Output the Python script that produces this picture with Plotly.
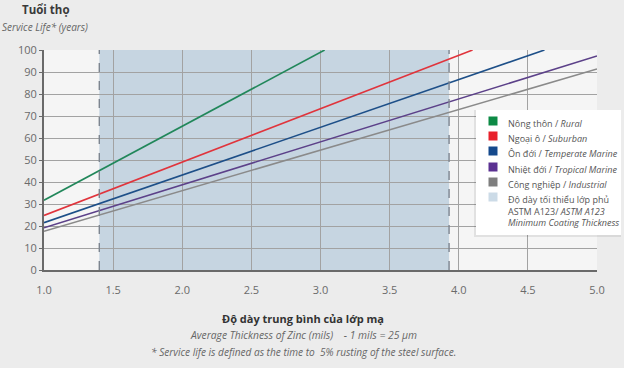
import plotly.graph_objects as go

# ---- data ----
series_names = ["Nông thôn / <i>Rural</i>", "Ngoại ô / <i>Suburban</i>",
                "Ôn đới / <i>Temperate Marine</i>", "Nhiệt đới / <i>Tropical Marine</i>",
                "Công nghiệp / <i>Industrial</i>"]
band_name = "Độ dày tối thiểu lớp phủ<br>ASTM A123/ <i>ASTM A123</i><br><i>Minimum Coating Thickness</i>"
rural_x = [1.0, 3.03]
rural_y = [31.7, 100]
suburban_x = [1.0, 4.10]
suburban_y = [24.8, 100]
temperate_x = [1.0, 4.62]
temperate_y = [21.5, 100]
tropical_x = [1.0, 5.0]
tropical_y = [19.2, 97.3]
industrial_x = [1.0, 5.0]
industrial_y = [17.6, 91.4]
astm_min_range = [1.40, 3.93]   # ASTM A123 minimum coating thickness band (mils)

x_ticks = [1.0, 1.5, 2.0, 2.5, 3.0, 3.5, 4.0, 4.5, 5.0]
x_ticktext = ["1.0", "1.5", "2.0", "2.5", "3.0", "3.5", "4.0", "4.5", "5.0"]
y_ticks = [0, 10, 20, 30, 40, 50, 60, 70, 80, 90, 100]

line_colors = ["#21875a", "#e0343c", "#1d4f88", "#5c4189", "#8a8a8a"]
legend_colors = ["#0d8a45", "#e8212b", "#15498c", "#5b3192", "#7e7e7e"]
band_color = "#c6d5e1"
band_legend_color = "#ccdbe7"

FONT = "Open Sans"
# plot-area pixel geometry (for placing paper-referenced decorations)
L, R, T, B = 44, 597, 50, 270


def px_x(p):
    return (p - L) / (R - L)


def px_y(p):
    return (B - p) / (B - T)


fig = go.Figure()

xs = [rural_x, suburban_x, temperate_x, tropical_x, industrial_x]
ys = [rural_y, suburban_y, temperate_y, tropical_y, industrial_y]
for name, x, y, c in zip(series_names, xs, ys, line_colors):
    fig.add_trace(go.Scatter(x=x, y=y, mode="lines", name=name.replace("<i>", "").replace("</i>", ""),
                             line=dict(color=c, width=1.6), showlegend=False))

# shaded band + dashed bounds
fig.add_shape(type="rect", xref="x", yref="paper", x0=astm_min_range[0], x1=astm_min_range[1],
              y0=0, y1=1, fillcolor=band_color, line=dict(width=0), layer="below")
for xv in astm_min_range:
    fig.add_shape(type="line", xref="x", yref="paper", x0=xv, x1=xv, y0=0, y1=1,
                  line=dict(color="#7d8590", width=1.4, dash="dash"), layer="above")

# ---- legend box (drawn manually to match the reference spacing) ----
bx0, bx1, by0, by1 = 476, 621, 110, 235
fig.add_shape(type="rect", xref="paper", yref="paper",
              x0=px_x(bx0 - 2), x1=px_x(bx1), y0=px_y(by1 + 2), y1=px_y(by0),
              fillcolor="rgba(0,0,0,0.08)", line=dict(width=0), layer="above")
fig.add_shape(type="rect", xref="paper", yref="paper",
              x0=px_x(bx0), x1=px_x(bx1), y0=px_y(by1), y1=px_y(by0),
              fillcolor="#ffffff", line=dict(width=0), layer="above")
row_y = [121, 136, 151, 167, 182, 197]
sw = 4.5
for lab, c, yy in zip(series_names + [band_name], legend_colors + [band_legend_color], row_y):
    fig.add_shape(type="rect", xref="paper", yref="paper",
                  x0=px_x(493 - sw), x1=px_x(493 + sw), y0=px_y(yy + sw), y1=px_y(yy - sw),
                  fillcolor=c, line=dict(width=0), layer="above")
    fig.add_annotation(text=lab, xref="paper", yref="paper", x=px_x(506), y=px_y(yy - 6.5),
                       xanchor="left", yanchor="top", align="left", showarrow=False,
                       font=dict(family=FONT, size=9, color="#555555"))

fig.update_layout(
    width=624, height=368,
    margin=dict(l=L, r=624 - R, t=T, b=368 - B, autoexpand=False),
    paper_bgcolor="#ececec",
    plot_bgcolor="#f5f5f5",
    font=dict(family=FONT, color="#6a6a6a", size=11),
    showlegend=False,
    xaxis=dict(range=[1.0, 5.0], tickvals=x_ticks, ticktext=x_ticktext,
               showgrid=True, gridcolor="#a2a2a2", gridwidth=1,
               showline=True, linecolor="#6a6a6a", linewidth=2,
               ticks="", ticklabelstandoff=9, zeroline=False,
               tickfont=dict(size=11, color="#6a6a6a")),
    yaxis=dict(range=[0, 100], tickvals=y_ticks,
               showgrid=True, gridcolor="#a2a2a2", gridwidth=1,
               showline=True, linecolor="#6a6a6a", linewidth=2,
               ticks="outside", ticklen=3, tickcolor="#6a6a6a", zeroline=False,
               tickfont=dict(size=11, color="#6a6a6a")),
)

ann = [
    dict(text="<b>Tuổi thọ</b>", x=px_x(46), y=px_y(10), size=11.5, color="#3a3a3a"),
    dict(text="<i>Service Life* (years)</i>", x=px_x(45), y=px_y(27), size=10, color="#666666"),
    dict(text="<b>Độ dày trung bình của lớp mạ</b>", x=px_x(303), y=px_y(318), size=11, color="#333333"),
    dict(text="<i>Average Thickness of Zinc (mils)    - 1 mils = 25 µm</i>", x=px_x(303), y=px_y(335), size=10.3, color="#666666"),
    dict(text="<i>* Service life is defined as the time to  5% rusting of the steel surface.</i>", x=px_x(303), y=px_y(352), size=10.1, color="#666666"),
]
for a in ann:
    fig.add_annotation(text=a["text"], xref="paper", yref="paper", x=a["x"], y=a["y"],
                       xanchor="center", yanchor="middle", showarrow=False,
                       font=dict(family=FONT, size=a["size"], color=a["color"]))

fig.write_html("out.html", config={"displayModeBar": False},
               post_script="document.body.style.margin='0';document.body.style.overflow='hidden';")
